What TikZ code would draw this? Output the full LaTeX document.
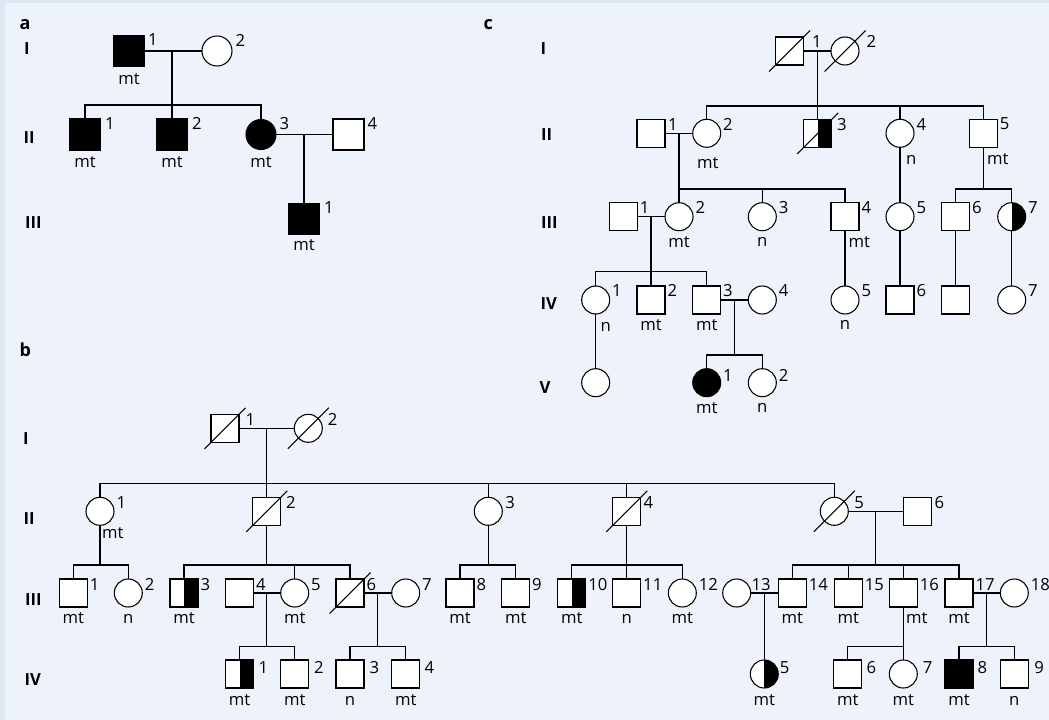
\documentclass[tikz,border=0pt]{standalone}
\usepackage{fontspec}
\setmainfont{Open Sans}
\usetikzlibrary{calc}

\definecolor{pagebg}{HTML}{EEF3FB}
\definecolor{pageedge}{HTML}{DEE8F5}

\tikzset{
  sym/.style={draw=black, fill=white, inner sep=0pt, outer sep=0pt},
  male/.style={sym, rectangle, minimum size=21pt},
  female/.style={sym, circle, minimum size=21pt},
  bigmale/.style={sym, rectangle, minimum size=23.25pt},
  bigfemale/.style={sym, circle, minimum size=22.5pt},
  aff/.style={fill=black},
  half/.style={path picture={\fill[black] (path picture bounding box.north) rectangle (path picture bounding box.south east);}},
  num/.style={anchor=west, inner sep=0pt, font=\fontsize{12.5}{14}\selectfont},
  sub/.style={inner sep=0pt, font=\fontsize{12.5}{14}\selectfont},
  subr/.style={sub, anchor=west},
  gen/.style={anchor=west, inner sep=0pt, font=\bfseries\fontsize{12.5}{14}\selectfont},
  panel/.style={anchor=west, inner sep=0pt, font=\bfseries\fontsize{13.5}{15}\selectfont},
}

% person: [label dx in px]{style}{name}{x}{y}{number}{text below}
\newcommand{\pers}[7][2]{%
  \node[#2] (#3) at (#4,#5) {};
  \if\relax\detokenize{#6}\relax\else
    \node[num] (#3-n) at ([xshift=#1*0.75pt, yshift=\numdy*0.75pt]#3.east) {#6};
  \fi
  \if\relax\detokenize{#7}\relax\else
    \node[sub] (#3-s) at ([yshift=-\subdy*0.75pt]#3.center) {#7};
  \fi
}
% deceased mark
\newcommand{\dead}[1]{\draw ([shift={(-20.5,20.5)}]#1.center) -- ([shift={(20.5,-20.5)}]#1.center);}

\begin{document}
\begin{tikzpicture}[x=0.75pt, y=-0.75pt, line width=0.8pt]
\useasboundingbox (0,0) rectangle (1049,720);
\fill[pagebg] (0,0) rectangle (1049,720);
\fill[pageedge] (0,0) rectangle (1049,3);
\fill[pageedge] (0,0) rectangle (5,720);

% ---------------- panel a ----------------
\node[panel] (pa) at (19,25) {a};
\node[gen] (aGI) at (23.5,49) {I};
\node[gen] (aGII) at (23,137.5) {II};
\node[gen] (aGIII) at (24.5,222.5) {III};

\def\numdy{11}\def\subdy{28}
\pers[3]{bigmale,aff}{aI1}{129}{51}{1}{mt}
\pers[3]{bigfemale}{aI2}{217}{51}{2}{}
\pers[4]{bigmale,aff}{aII1}{85}{134.5}{1}{mt}
\pers[4]{bigmale,aff}{aII2}{172}{134.5}{2}{mt}
\pers[3]{bigfemale,aff}{aII3}{261}{134.5}{3}{mt}
\pers[3]{bigmale}{aII4}{348.5}{134.5}{4}{}
\def\subdy{26}
\pers[4]{bigmale,aff}{aIII1}{304}{219}{1}{mt}

\coordinate (aM1) at (172,51);
\coordinate (aS1) at (172,105);
\draw (aI1) -- (aI2);
\draw (aM1) -- (aII2.north);
\draw (aII1.north) |- (aS1) -| (aII3.north);
\coordinate (aM2) at (304,134.5);
\draw (aII3) -- (aII4);
\draw (aM2) -- (aIII1.north);

% ---------------- panel c ----------------
\node[panel] (pc) at (483,25) {c};
\node[gen] (cGI) at (540,49) {I};
\node[gen] (cGII) at (540.5,134.5) {II};
\node[gen] (cGIII) at (540.5,222.5) {III};
\node[gen] (cGIV) at (540,304) {IV};
\node[gen] (cGV) at (539,387.5) {V};

\def\numdy{9.2}\def\subdy{25}
\pers[8]{male}{cI1}{789.5}{51}{1}{}
\pers[7]{female}{cI2}{845}{51}{2}{}
\dead{cI1}\dead{cI2}

\pers[2.5]{male}{cII1}{651}{133.3}{1}{}
\pers{female}{cII2}{706.7}{133.3}{2}{}
\node[sub] (cII2-s) at (707.7,163) {mt};
\pers[5]{male,half}{cII3}{817.7}{133.3}{3}{}
\dead{cII3}
\pers{female}{cII4}{900}{133.3}{4}{}
\node[subr] (cII4-s) at (905.5,159.5) {n};
\pers{male}{cII5}{983.3}{133.3}{5}{}
\node[subr] (cII5-s) at (986.5,159.5) {mt};

\pers{male}{cIII1}{623.3}{216.7}{1}{}
\pers{female}{cIII2}{679}{216.7}{2}{mt}
\pers{female}{cIII3}{762.3}{216.7}{3}{n}
\pers{male}{cIII4}{845}{216.7}{4}{}
\node[subr] (cIII4-s) at (848,241.7) {mt};
\pers{female}{cIII5}{900}{216.7}{5}{}
\pers{male}{cIII6}{955.7}{216.7}{6}{}
\pers{female,half}{cIII7}{1011.7}{216.7}{7}{}

\pers{female}{cIV1}{595.7}{300}{1}{}
\node[subr] (cIV1-s) at (600,326.7) {n};
\pers{male}{cIV2}{651}{300}{2}{mt}
\pers{male}{cIV3}{706.7}{300}{3}{mt}
\pers{female}{cIV4}{762.3}{300}{4}{}
\pers{female}{cIV5}{845}{300}{5}{n}
\pers{male}{cIV6}{900}{300}{6}{}
\pers{male}{cIVu}{955.7}{300}{}{}
\pers{female}{cIV7}{1011.7}{300}{7}{}

\def\numdy{7}
\pers{female}{cV0}{595.7}{382.7}{}{}
\pers{female,aff}{cV1}{706.7}{382.7}{1}{mt}
\pers{female}{cV2}{762.3}{382.7}{2}{n}

\coordinate (cM1) at (817.7,51);
\coordinate (cS1) at (817.7,106);
\draw (cI1) -- (cI2);
\draw (cM1) -- (cII3.north);
\draw (cII2.north) |- (cS1) -| (cII5.north);
\draw (cII4.north) -- (cII4.north |- cS1);
\draw (cII1) -- (cII2);
\coordinate (cM2) at (679,133.3);
\coordinate (cS2) at (679,189);
\draw (cM2) -- (cIII2.north);
\draw (cS2) -| (cIII4.north);
\draw (cIII3.north) -- (cIII3.north |- cS2);
\draw (cII4) -- (cIII5);
\coordinate (cS3) at (983.3,189);
\draw (cII5) -- (cS3);
\draw (cIII6.north) |- (cS3) -| (cIII7.north);
\draw (cIII1) -- (cIII2);
\coordinate (cM3) at (651,216.7);
\coordinate (cS4) at (651,271.7);
\draw (cM3) -- (cIV2.north);
\draw (cIV1.north) |- (cS4) -| (cIV3.north);
\draw (cIII4) -- (cIV5);
\draw (cIII5) -- (cIV6);
\draw (cIII6) -- (cIVu);
\draw (cIII7) -- (cIV7);
\draw (cIV3) -- (cIV4);
\coordinate (cM4) at (734.3,300);
\coordinate (cS5) at (734.3,355);
\draw (cM4) -- (cS5);
\draw (cV1.north) |- (cS5) -| (cV2.north);
\draw (cIV1) -- (cV0);

% ---------------- panel b ----------------
\node[panel] (pb) at (19,350) {b};
\node[gen] (bGI) at (22.5,438.7) {I};
\node[gen] (bGII) at (23,518.7) {II};
\node[gen] (bGIII) at (24.5,600) {III};
\node[gen] (bGIV) at (24,680) {IV};

\def\numdy{8.8}\def\subdy{25.5}
\pers[6]{male}{bI1}{225}{428.3}{1}{}
\pers[5]{female}{bI2}{308.3}{428.3}{2}{}
\dead{bI1}\dead{bI2}

\pers{female}{bII1}{100}{511.3}{1}{}
\node[subr] (bII1-s) at (101.7,533.3) {mt};
\pers[5]{male}{bII2}{266.7}{511.3}{2}{}
\dead{bII2}
\pers[2.5]{female}{bII3}{488.3}{511.3}{3}{}
\pers[2.5]{male}{bII4}{626.7}{511.3}{4}{}
\dead{bII4}
\pers[5.5]{female}{bII5}{834.3}{511.3}{5}{}
\dead{bII5}
\pers[2.5]{male}{bII6}{917.5}{511.3}{6}{}

\pers{male}{bIII1}{73.3}{593}{1}{mt}
\pers{female}{bIII2}{128.3}{593}{2}{n}
\pers{male,half}{bIII3}{184}{593}{3}{mt}
\pers{male}{bIII4}{239.5}{593}{4}{}
\pers{female}{bIII5}{294.7}{593}{5}{mt}
\pers{male}{bIII6}{350}{593}{6}{}
\dead{bIII6}
\pers{female}{bIII7}{405.7}{593}{7}{}
\pers{male}{bIII8}{460}{593}{8}{mt}
\pers{male}{bIII9}{515.7}{593}{9}{mt}
\pers{male,half}{bIII10}{571.8}{593}{10}{mt}
\pers{male}{bIII11}{626.7}{593}{11}{n}
\pers{female}{bIII12}{682.3}{593}{12}{mt}
\pers[0.3]{female}{bIII13}{736.7}{593}{13}{}
\pers{male}{bIII14}{792.3}{593}{14}{mt}
\pers{male}{bIII15}{848.3}{593}{15}{mt}
\pers{male}{bIII16}{903.3}{593}{16}{}
\node[subr] (bIII16-s) at (905.5,618.3) {mt};
\pers{male}{bIII17}{959}{593}{17}{mt}
\pers{female}{bIII18}{1014.3}{593}{18}{}

\def\numdy{6.5}\def\subdy{26.5}
\pers[4.5]{male,half}{bIV1}{239.5}{674}{1}{mt}
\pers[5]{male}{bIV2}{294.7}{674}{2}{mt}
\pers[5]{male}{bIV3}{350}{674}{3}{n}
\pers[4.5]{male}{bIV4}{405.7}{674}{4}{mt}
\pers[1]{female,half}{bIV5}{764.3}{674}{5}{mt}
\pers[4.5]{male}{bIV6}{847.7}{674}{6}{mt}
\pers[5]{female}{bIV7}{903.3}{674}{7}{mt}
\pers[4]{male,aff}{bIV8}{959}{674}{8}{mt}
\pers[5.5]{male}{bIV9}{1014.3}{674}{9}{n}

\draw (bI1) -- (bI2);
\coordinate (bM1) at (266.7,428.3);
\coordinate (bS1) at (266.7,483.3);
\draw (bM1) -- (bII2.north);
\draw (bII1.north) |- (bS1) -| (bII5.north);
\draw (bII3.north) -- (bII3.north |- bS1);
\draw (bII4.north) -- (bII4.north |- bS1);

\coordinate (bS2) at (100,565);
\draw (bII1) -- (bS2);
\draw (bIII1.north) |- (bS2) -| (bIII2.north);

\coordinate (bS3) at (266.7,565);
\draw (bII2) -- (bS3);
\draw (bIII3.north) |- (bS3) -| (bIII6.north);
\draw (bIII5.north) -- (bIII5.north |- bS3);

\draw (bIII4) -- (bIII5);
\coordinate (bM2) at (266.7,593);
\coordinate (bS4) at (266.7,646.7);
\draw (bM2) -- (bS4);
\draw (bIV1.north) |- (bS4) -| (bIV2.north);

\draw (bIII6) -- (bIII7);
\coordinate (bM3) at (377.7,593);
\coordinate (bS5) at (377.7,646.7);
\draw (bM3) -- (bS5);
\draw (bIV3.north) |- (bS5) -| (bIV4.north);

\coordinate (bS6) at (488.3,565);
\draw (bII3) -- (bS6);
\draw (bIII8.north) |- (bS6) -| (bIII9.north);

\coordinate (bS7) at (626.7,565);
\draw (bII4) -- (bIII11);
\draw (bIII10.north) |- (bS7) -| (bIII12.north);

\draw (bII5) -- (bII6);
\coordinate (bM4) at (875.7,511.3);
\coordinate (bS8) at (875.7,565);
\draw (bM4) -- (bS8);
\draw (bIII14.north) |- (bS8) -| (bIII17.north);
\draw (bIII15.north) -- (bIII15.north |- bS8);
\draw (bIII16.north) -- (bIII16.north |- bS8);

\draw (bIII13) -- (bIII14);
\coordinate (bM5) at (764.3,593);
\draw (bM5) -- (bIV5.north);

\coordinate (bS9) at (903.3,646.7);
\draw (bIII16) -- (bIV7);
\draw (bIV6.north) |- (bS9);

\draw (bIII17) -- (bIII18);
\coordinate (bM6) at (986.7,593);
\coordinate (bS10) at (986.7,646.7);
\draw (bM6) -- (bS10);
\draw (bIV8.north) |- (bS10) -| (bIV9.north);
\end{tikzpicture}
\end{document}
